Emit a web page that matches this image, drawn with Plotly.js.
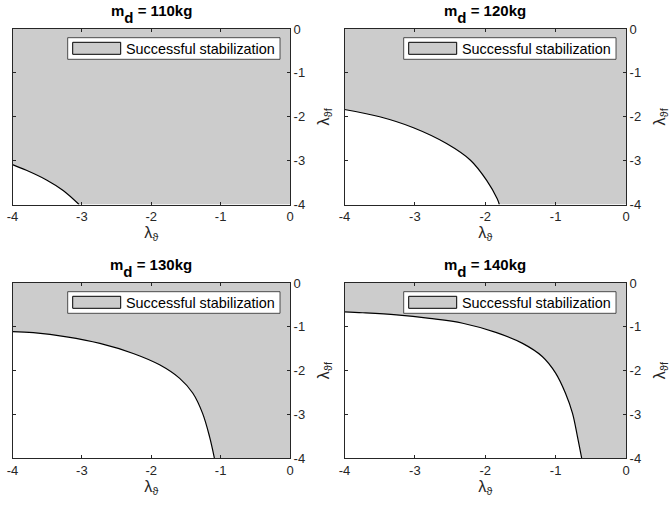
<!DOCTYPE html>
<html>
<head>
<meta charset="utf-8">
<script src="https://cdn.plot.ly/plotly-3.0.1.min.js"></script>
<style>
html,body{margin:0;padding:0;background:#ffffff;}
#chart{width:671px;height:508px;}
</style>
</head>
<body>
<div id="chart"></div>
<script>
// ---- data ----
const massLabels = ['110kg', '120kg', '130kg', '140kg'];
const legendLabel = 'Successful stabilization';
const xTickVals = [-4, -3, -2, -1, 0];
const xTickText = ['-4', '-3', '-2', '-1', '0'];
const yTickVals = [-4, -3, -2, -1, 0];
const yTickText = ['-4', '-3', '-2', '-1', '0'];

// stability boundary (lambda_theta, lambda_theta_f) for each mass
const bx110 = [-4, -3.80, -3.51, -3.27, -3.04];
const by110 = [-3.09, -3.22, -3.44, -3.68, -4];

const bx120 = [-4, -3.5, -3.02, -2.55, -2.21, -1.98, -1.83, -1.80];
const by120 = [-1.835, -2.0, -2.25, -2.61, -2.99, -3.45, -3.87, -4];

const bx130 = [-4, -3.7, -3.22, -2.74, -2.26, -1.88, -1.59, -1.40, -1.26, -1.16, -1.09];
const by130 = [-1.11, -1.135, -1.23, -1.38, -1.61, -1.87, -2.18, -2.52, -2.98, -3.51, -4];

const bx140 = [-4, -3.74, -3.26, -2.79, -2.32, -1.85, -1.47, -1.19, -1.0, -0.86, -0.76, -0.69, -0.63];
const by140 = [-0.66, -0.68, -0.73, -0.81, -0.92, -1.13, -1.38, -1.68, -2.06, -2.52, -2.98, -3.51, -4];

// outer corner path of the region (top-left -> top-right -> bottom-right)
const cornerX = [-4, 0, 0];
const cornerY = [0, 0, -4];

// ---- layout ----
const W = 671, H = 508;
// pixel boxes of plot areas: [left, right, top, bottom]
const boxes = [
  [12.5, 290, 29, 204.5],
  [344.5, 626, 29, 204.5],
  [12.5, 290, 283, 458],
  [344.5, 626, 283, 458]
];
const curves = [[bx110, by110], [bx120, by120], [bx130, by130], [bx140, by140]];

const axisColor = '#262626';
const fontFam = '"Liberation Sans", Arial, Helvetica, sans-serif';
const px = x => x / W;
const py = y => 1 - y / H;

const data = [];
const layout = {
  width: W, height: H,
  margin: {l: 0, r: 0, t: 0, b: 0},
  paper_bgcolor: '#ffffff',
  plot_bgcolor: '#ffffff',
  showlegend: false,
  font: {family: fontFam, color: axisColor, size: 13},
  shapes: [],
  annotations: []
};

boxes.forEach((b, i) => {
  const n = i === 0 ? '' : String(i + 1);
  const xa = 'x' + n, ya = 'y' + n;
  // invisible outer boundary (fill reference)
  data.push({
    x: cornerX, y: cornerY, xaxis: xa, yaxis: ya,
    mode: 'lines', line: {width: 0, color: 'rgba(0,0,0,0)'},
    hoverinfo: 'skip', showlegend: false
  });
  // boundary curve, filling the successful region
  data.push({
    x: curves[i][0], y: curves[i][1], xaxis: xa, yaxis: ya,
    mode: 'lines', line: {color: '#000000', width: 1.2, shape: 'spline', smoothing: 1},
    fill: 'tonexty', fillcolor: '#cccccc',
    name: legendLabel, showlegend: false
  });

  layout['xaxis' + n] = {
    domain: [px(b[0]), px(b[1])], anchor: ya, range: [-4, 0],
    tickmode: 'array', tickvals: xTickVals, ticktext: xTickText,
    ticks: 'inside', ticklen: 3, tickcolor: axisColor, tickwidth: 1,
    showline: true, linecolor: axisColor, linewidth: 1, mirror: 'allticks',
    showgrid: false, zeroline: false, fixedrange: true,
    tickfont: {size: 13, color: axisColor},
    title: {text: 'λ<sub>ϑ</sub>', font: {size: 16, color: axisColor}, standoff: 3},
    automargin: false
  };
  layout['yaxis' + n] = {
    domain: [py(b[3]), py(b[2])], anchor: xa, range: [-4, 0], side: 'right',
    tickmode: 'array', tickvals: yTickVals, ticktext: yTickText,
    ticks: 'inside', ticklen: 3, tickcolor: axisColor, tickwidth: 1,
    showline: true, linecolor: axisColor, linewidth: 1, mirror: 'allticks',
    showgrid: false, zeroline: false, fixedrange: true,
    tickfont: {size: 13, color: axisColor},
    title: {text: 'λ<sub>ϑf</sub>', font: {size: 16, color: axisColor}, standoff: 13},
    automargin: false
  };

  // title
  layout.annotations.push({
    xref: 'paper', yref: 'paper',
    x: px((b[0] + b[1]) / 2), y: py(b[2] - 15), xanchor: 'center', yanchor: 'middle',
    text: '<b>m<span style="baseline-shift:-0.45em">d</span> = ' + massLabels[i] + '</b>',
    showarrow: false, font: {size: 15, color: '#000000', family: fontFam}
  });

  // legend box
  const lr = b[1] - 10, lt = b[2] + 8.7;
  const ll = lr - 212.3, lb = lt + 21.6;
  layout.shapes.push({
    type: 'rect', xref: 'paper', yref: 'paper',
    x0: px(ll), x1: px(lr), y0: py(lb), y1: py(lt),
    fillcolor: '#ffffff', line: {color: axisColor, width: 0.8}, layer: 'above'
  });
  layout.shapes.push({
    type: 'rect', xref: 'paper', yref: 'paper',
    x0: px(ll + 5), x1: px(ll + 53), y0: py(lt + 16.6), y1: py(lt + 4.6),
    fillcolor: '#cccccc', line: {color: '#000000', width: 1}, layer: 'above'
  });
  layout.annotations.push({
    xref: 'paper', yref: 'paper',
    x: px(ll + 56.5), y: py(lt + 11), xanchor: 'left', yanchor: 'middle',
    text: legendLabel, showarrow: false,
    font: {size: 14.4, color: '#000000', family: fontFam}
  });
});

Plotly.newPlot('chart', data, layout, {staticPlot: true, displayModeBar: false});
</script>
</body>
</html>
